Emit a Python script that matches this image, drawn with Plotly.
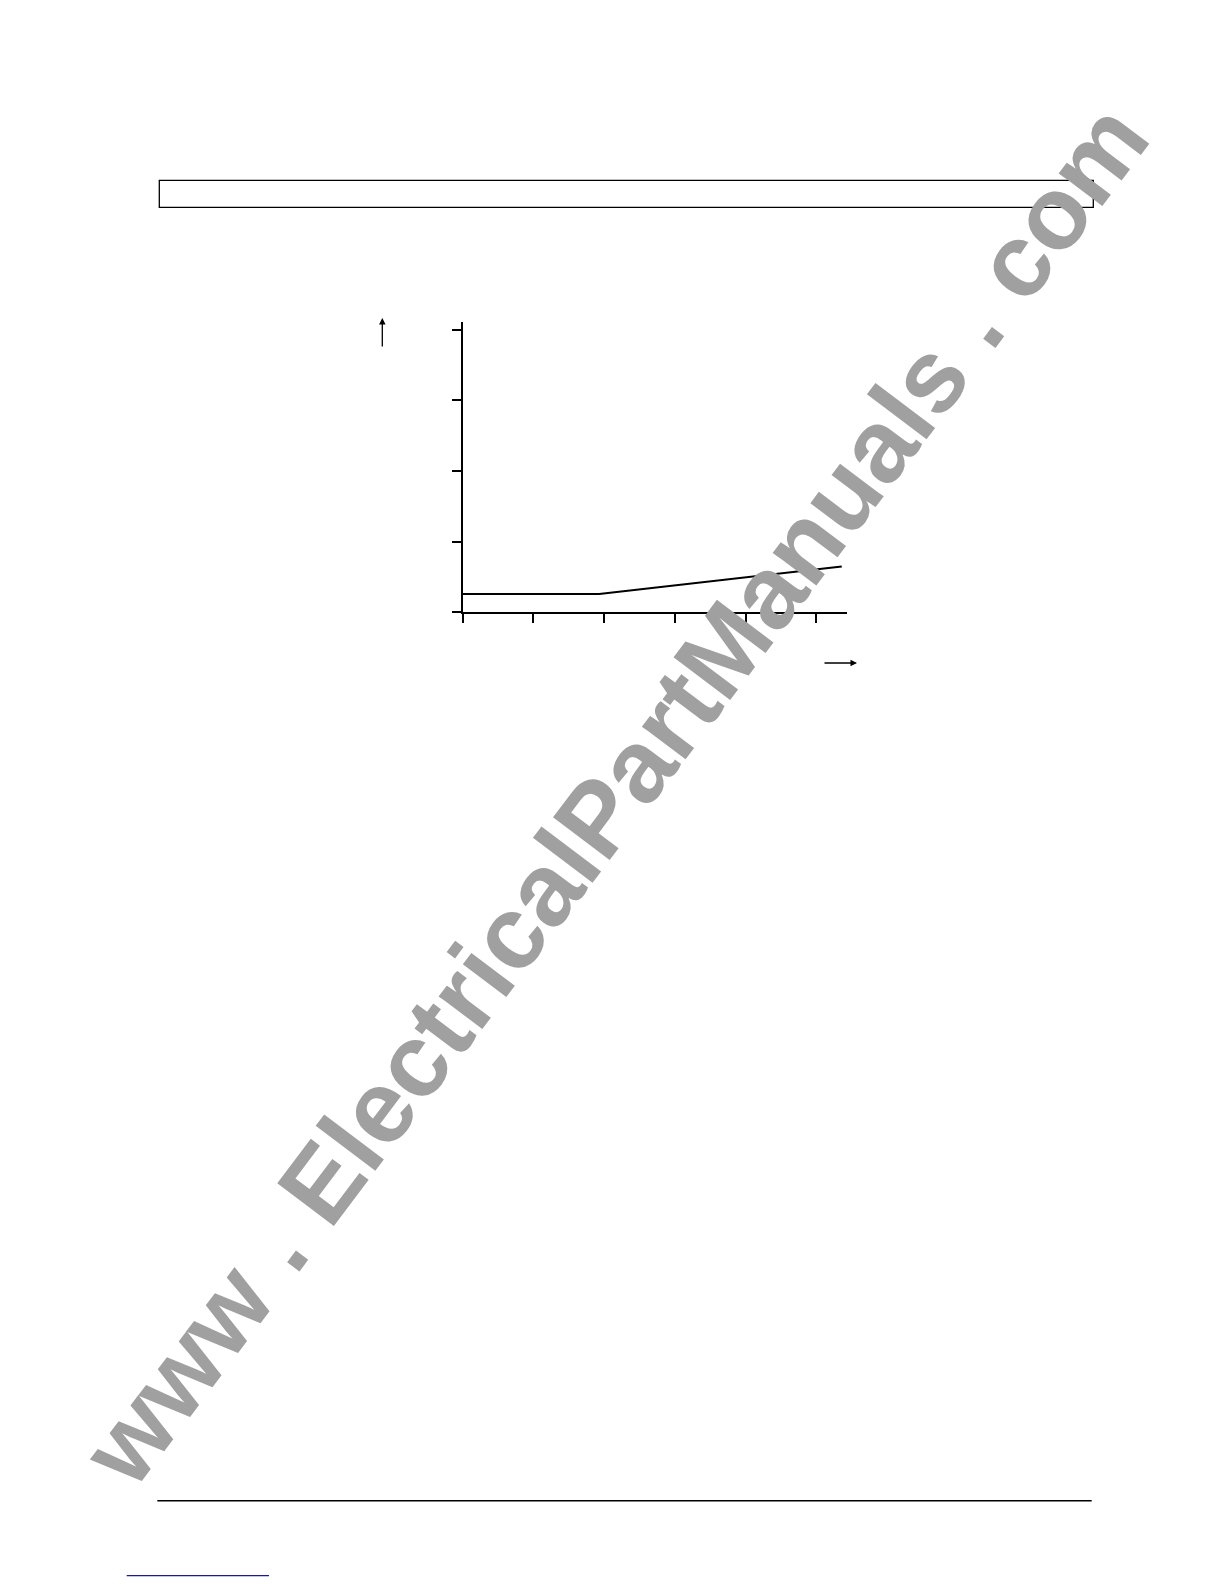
import plotly.graph_objects as go

# axis ticks (no labels printed on the chart)
x_ticks = [0, 1, 2, 3, 4, 5]
y_ticks = [0, 1, 2, 3, 4]

# the curve: flat, then rising
curve_x = [0, 1.93, 5.36]
curve_y = [0.26, 0.26, 0.65]

# page is 1224x1584, the body has an 8px margin
OFF = 8
W, H = 1224 - OFF, 1584 - OFF


def px(x):
    return (x - OFF) / W


def py(y):
    return 1 - (y - OFF) / H


fig = go.Figure()

fig.add_trace(go.Scatter(
    x=curve_x,
    y=curve_y,
    mode="lines",
    line=dict(color="black", width=2),
    hoverinfo="skip",
    showlegend=False,
))

axis_style = dict(
    showgrid=False,
    zeroline=False,
    showline=True,
    linecolor="black",
    linewidth=2,
    ticks="outside",
    ticklen=9,
    tickwidth=2,
    tickcolor="black",
    showticklabels=False,
)

fig.update_layout(
    width=W,
    height=H,
    margin=dict(l=0, r=0, t=0, b=0),
    paper_bgcolor="white",
    plot_bgcolor="white",
    xaxis=dict(domain=[px(462.7), px(846.7)], range=[0, 5.43], tickvals=x_ticks, **axis_style),
    yaxis=dict(domain=[py(612.3), py(321.7)], range=[0, 4.116], tickvals=y_ticks, **axis_style),
    font=dict(family="Liberation Sans, Arial, sans-serif"),
)

# page furniture: header box, footer rule, small blue link underline
fig.add_shape(type="rect", xref="paper", yref="paper",
              x0=px(159.3), x1=px(1093.3), y0=py(207.3), y1=py(180.3),
              line=dict(color="black", width=1.3))
fig.add_shape(type="line", xref="paper", yref="paper",
              x0=px(157.3), x1=px(1091.7), y0=py(1500.7), y1=py(1500.7),
              line=dict(color="black", width=1.5))
fig.add_shape(type="line", xref="paper", yref="paper",
              x0=px(126.7), x1=px(269), y0=py(1575.7), y1=py(1575.7),
              line=dict(color="#1c1c8a", width=1.2))

# axis direction arrows
fig.add_annotation(xref="paper", yref="paper", x=px(382.3), y=py(318), ax=0, ay=30,
                   text="", showarrow=True, arrowhead=2, arrowsize=1, arrowwidth=1.3,
                   arrowcolor="black")
fig.add_annotation(xref="paper", yref="paper", x=px(857), y=py(663), ax=-34, ay=0,
                   text="", showarrow=True, arrowhead=2, arrowsize=1, arrowwidth=1.3,
                   arrowcolor="black")

# diagonal watermark
fig.add_annotation(xref="paper", yref="paper", x=px(614.5), y=py(794.5),
                   text="<b>www . ElectricalPartManuals . com</b>", showarrow=False,
                   textangle=-53, font=dict(size=103, color="#a0a0a0",
                                            family="Liberation Sans, Arial, sans-serif"))

fig.write_html("out.html")
